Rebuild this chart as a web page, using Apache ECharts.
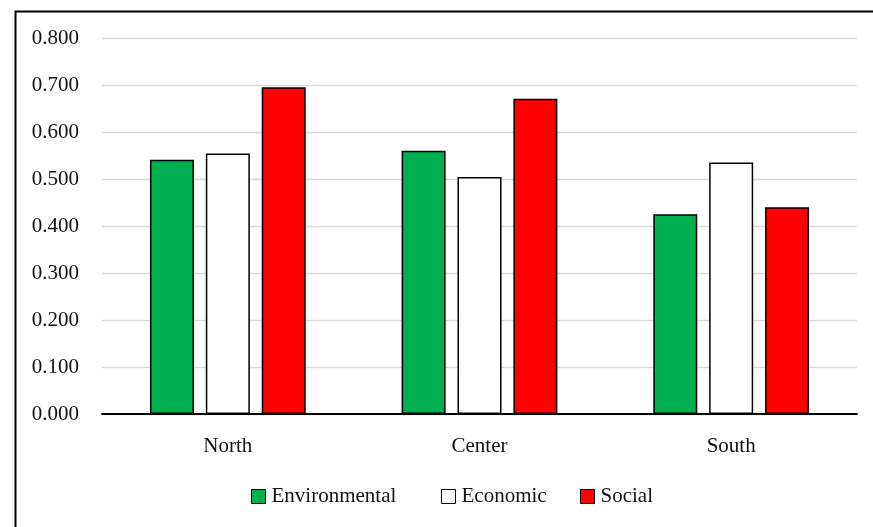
<!DOCTYPE html>
<html>
<head>
<meta charset="utf-8">
<script src="https://cdn.jsdelivr.net/npm/echarts@6/dist/echarts.min.js"></script>
<style>html,body{margin:0;padding:0;background:#fff}#c{width:873px;height:527px}</style>
</head>
<body>
<div id="c"></div>
<script>
const categories = ['North', 'Center', 'South'];
const environmental = [0.541, 0.560, 0.425];
const economic = [0.554, 0.504, 0.535];
const social = [0.695, 0.671, 0.440];
const seriesNames = ['Environmental', 'Economic', 'Social'];
const seriesColors = ['#00B050', '#FFFFFF', '#FF0000'];

const FONT = '"Liberation Serif", "Times New Roman", serif';
const chart = echarts.init(document.getElementById('c'), null, {renderer: 'canvas'});
const values = [environmental, economic, social];

function legendAt(i, left) {
  return {
    data: [seriesNames[i]],
    left: left, top: 486,
    itemWidth: 14, itemHeight: 14, icon: 'rect',
    itemStyle: {borderColor: '#000', borderWidth: 1},
    textStyle: {fontFamily: FONT, fontSize: 21, color: '#111', padding: [0, 0, 0, 1]},
    padding: 0
  };
}

chart.setOption({
  animation: false,
  backgroundColor: '#fff',
  graphic: [{
    type: 'rect', left: 13, top: 9,
    shape: {x: 0, y: 0, width: 1000, height: 1000},
    style: {fill: 'none', stroke: '#000', lineWidth: 2},
    silent: true
  }],
  grid: {left: 102, right: 16, top: 38, bottom: 113, containLabel: false},
  legend: [legendAt(0, 251), legendAt(1, 441), legendAt(2, 580)],
  xAxis: {
    type: 'category', data: categories,
    axisLine: {lineStyle: {color: '#000', width: 2}},
    axisTick: {show: false},
    axisLabel: {fontFamily: FONT, fontSize: 21, color: '#111', margin: 22}
  },
  yAxis: {
    type: 'value', min: 0, max: 0.8, interval: 0.1,
    axisLine: {show: false}, axisTick: {show: false},
    splitLine: {lineStyle: {color: '#d9d9d9', width: 1.3}},
    axisLabel: {fontFamily: FONT, fontSize: 21, color: '#111', margin: 23,
      formatter: v => v.toFixed(3)}
  },
  series: seriesNames.map((n, i) => ({
    name: n, type: 'bar', data: values[i],
    barWidth: 44, barGap: '27%',
    itemStyle: {color: seriesColors[i], borderColor: '#000', borderWidth: 1.5}
  }))
});
</script>
</body>
</html>
